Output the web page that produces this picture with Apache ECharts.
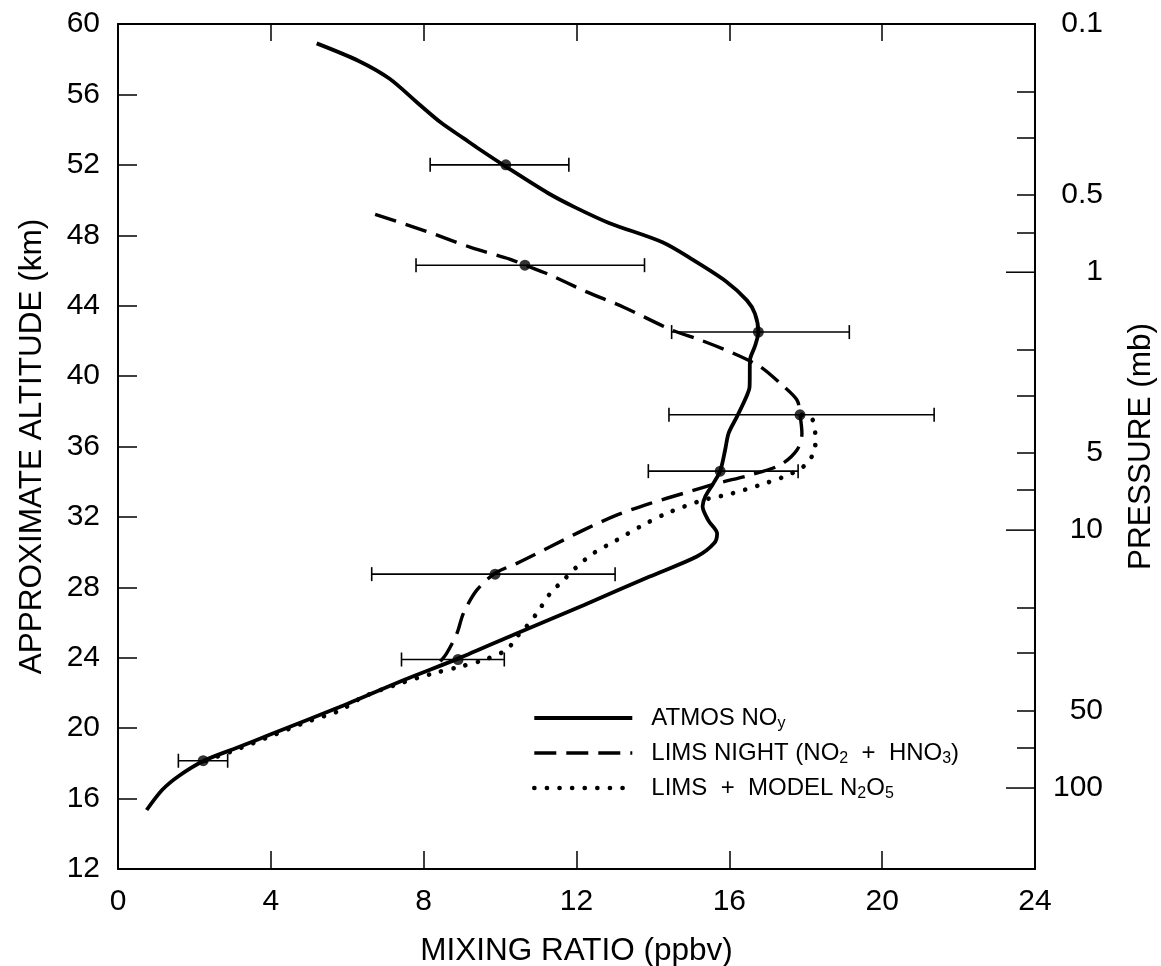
<!DOCTYPE html>
<html><head><meta charset="utf-8">
<script src="https://cdn.jsdelivr.net/npm/echarts@6/dist/echarts.min.js"></script>
<style>html,body{margin:0;padding:0;background:#fff}#c{width:1161px;height:966px}</style>
</head><body><div id="c"></div>
<script>
// ---- data: [mixing ratio (ppbv), altitude (km)] ----
const atmosNOy = [
 [0.75,15.35],[1.16,16.5],[1.6,17.3],[2.25,18.15],[3.13,18.9],[4.0,19.65],[5.8,21.2],[7.5,22.75],
 [8.9,23.95],[10.4,25.35],[12.2,27.0],[13.9,28.6],[15.15,29.75],[15.6,30.5],[15.68,31.05],
 [15.45,31.8],[15.3,32.6],[15.37,33.15],[15.58,33.9],[15.76,34.6],[15.89,35.8],[15.98,36.75],
 [16.2,37.7],[16.41,38.65],[16.53,39.4],[16.54,40.9],[16.67,41.7],[16.76,42.5],[16.67,43.55],
 [16.46,44.3],[15.9,45.4],[15.05,46.6],[14.25,47.6],[12.85,48.7],[11.95,49.6],[11.25,50.4],
 [10.15,51.9],[9.45,52.9],[9.05,53.5],[8.45,54.4],[7.85,55.5],[7.1,56.9],[6.3,57.9],[5.2,58.9]
];
const limsNight = [
 [6.73,49.18],[8.05,48.24],[9.25,47.3],[10.25,46.65],[10.65,46.3],[11.25,45.8],[12.25,44.8],
 [13.25,43.9],[14.49,42.62],[15.24,42.05],[16.11,41.29],[16.81,40.53],[17.33,39.59],[17.77,38.64],
 [17.85,37.8],[17.9,36.74],[17.77,35.8],[17.33,34.95],[16.55,34.38],[15.67,33.9],[14.8,33.34],
 [13.93,32.77],[13.05,32.1],[12.18,31.25],[11.31,30.3],[10.44,29.36],[9.87,28.8],[9.39,27.84],
 [9.04,26.52],[8.87,25.38],[8.6,24.25],[8.4,23.7]
];
const limsModel = [
 [17.9,37.8],[18.16,37.6],[18.25,36.6],[18.25,36.0],[18.03,35.04],[17.63,34.47],[16.98,33.94],
 [16.02,33.3],[15.32,32.96],[14.36,32.2],[13.66,31.44],[13.05,30.68],[12.44,29.93],[12.01,29.17],
 [11.66,28.41],[11.31,27.65],[10.96,26.52],[10.61,25.57],[10.44,25.19],[10.17,24.45],[9.56,23.87],
 [8.95,23.49],[8.25,23.11],[7.38,22.54],[6.42,21.78],[5.8,21.0],[4.91,20.33],[4.02,19.57],
 [3.13,18.81],[2.3,18.15]
];
// error bars
const errAlt  = [52.0, 46.3, 42.5, 37.8, 34.6, 28.75, 23.9, 18.15];
const errMid  = [10.15, 10.65, 16.76, 17.85, 15.76, 9.87, 8.9, 2.23];
const errLow  = [8.17, 7.8, 14.49, 14.42, 13.88, 6.64, 7.42, 1.58];
const errHigh = [11.8, 13.78, 19.14, 21.36, 17.8, 13.01, 10.11, 2.87];
// pressure axis (mb)
const pressureLabels = [0.1, 0.5, 1, 5, 10, 50, 100];
const pressureMinorTicks = [0.2, 0.3, 0.5, 0.7, 2, 3, 5, 7, 20, 30, 50, 70];
const pressureMajorTicks = [1, 10, 100];

// approximate altitude (km) of a pressure level (mb), as implied by the figure's two scales
function altOf(p){ return Math.min(60, 45.9 - 14.65*Math.log10(p)); }

const FONT = "'Liberation Sans', Arial, Helvetica, sans-serif";
const chart = echarts.init(document.getElementById('c'), null, {renderer:'canvas'});
const axisLineStyle = {color:'#000', width:2};

const legendText = {
  'ATMOS NOy': 'ATMOS NO{s|y}',
  'LIMS NIGHT (NO2 + HNO3)': 'LIMS NIGHT (NO{s|2}  +  HNO{s|3})',
  'LIMS + MODEL N2O5': 'LIMS  +  MODEL N{s|2}O{s|5}'
};
const solidStyle = {color:'#000', width:3.8};
const dashStyle = {color:'#000', width:3.4, type:[22,10]};
const dotStyle = {color:'#000', width:4.6, type:[0.1,12.5], cap:'round'};
const TICK_FS = 30, NAME_FS = 31.5;

chart.setOption({
  backgroundColor:'#fff',
  animation:false,
  color:['#000'],
  textStyle:{fontFamily:FONT, color:'#000'},
  grid:{left:118, right:126, top:24, bottom:97, containLabel:false, outerBoundsMode:'none'},
  legend:{
    orient:'vertical', left:532, top:706, padding:0, itemWidth:98, itemHeight:24, itemGap:9,
    data:[
      {name:'ATMOS NOy', lineStyle:solidStyle},
      {name:'LIMS NIGHT (NO2 + HNO3)', lineStyle:dashStyle},
      {name:'LIMS + MODEL N2O5', lineStyle:dotStyle}
    ],
    formatter:(n)=>legendText[n],
    itemStyle:{opacity:0},
    textStyle:{fontFamily:FONT, fontSize:24, color:'#000', lineHeight:24, padding:[0,0,0,14],
      rich:{s:{fontSize:16, fontFamily:FONT, color:'#000', verticalAlign:'bottom', lineHeight:16, padding:[0,0,-2,0]}}},
    selectedMode:false
  },
  xAxis:[
    {type:'value', position:'bottom', min:0, max:24, interval:4,
     axisLine:{show:true, onZero:false, lineStyle:axisLineStyle},
     axisTick:{show:true, inside:true, length:18, lineStyle:{color:'#000', width:1.5}},
     axisLabel:{fontSize:TICK_FS, color:'#000', margin:18, fontFamily:FONT},
     splitLine:{show:false},
     name:'MIXING RATIO (ppbv)', nameLocation:'middle', nameGap:66,
     nameTextStyle:{fontSize:NAME_FS, color:'#000', fontFamily:FONT}},
    {type:'value', position:'top', min:0, max:24, interval:4,
     axisLine:{show:true, onZero:false, lineStyle:axisLineStyle},
     axisTick:{show:true, inside:true, length:17, lineStyle:{color:'#000', width:1.5}},
     axisLabel:{show:false}, splitLine:{show:false}}
  ],
  yAxis:[
    {type:'value', position:'left', min:12, max:60, interval:4,
     axisLine:{show:true, onZero:false, lineStyle:axisLineStyle},
     axisTick:{show:true, inside:true, length:19, lineStyle:{color:'#000', width:1.5}},
     axisLabel:{fontSize:TICK_FS, color:'#000', margin:18, fontFamily:FONT},
     splitLine:{show:false},
     name:'APPROXIMATE ALTITUDE (km)', nameLocation:'middle', nameGap:70, nameRotate:90,
     nameTextStyle:{fontSize:NAME_FS, color:'#000', fontFamily:FONT}},
    {type:'value', position:'right', min:12, max:60,
     axisLine:{show:true, onZero:false, lineStyle:axisLineStyle},
     axisTick:{show:true, inside:true, length:18, lineStyle:{color:'#000', width:1.5},
       customValues: pressureMinorTicks.map(altOf)},
     axisLabel:{fontSize:TICK_FS, color:'#000', margin:68, align:'right', fontFamily:FONT,
       customValues: pressureLabels.map(altOf),
       formatter:(v)=>{ let best=pressureLabels[0], d=1e9;
         pressureLabels.forEach(p=>{ const dd=Math.abs(altOf(p)-v); if(dd<d){d=dd;best=p;} });
         return String(best); }},
     splitLine:{show:false},
     name:'PRESSURE (mb)', nameLocation:'middle', nameGap:90, nameRotate:90,
     nameTextStyle:{fontSize:NAME_FS, color:'#000', fontFamily:FONT}}
  ],
  series:[
    {name:'ATMOS NOy', type:'line', xAxisIndex:0, yAxisIndex:0, data:atmosNOy,
     smooth:0.3, symbol:'none', itemStyle:{color:'#000'}, lineStyle:solidStyle, z:5},
    {name:'LIMS NIGHT (NO2 + HNO3)', type:'line', xAxisIndex:0, yAxisIndex:0, data:limsNight,
     smooth:0.3, symbol:'none', itemStyle:{color:'#000'}, lineStyle:dashStyle, z:4},
    {name:'LIMS + MODEL N2O5', type:'line', xAxisIndex:0, yAxisIndex:0, data:limsModel,
     smooth:0.3, symbol:'none', itemStyle:{color:'#000'}, lineStyle:dotStyle, z:3},
    {name:'majorTicks', type:'custom', xAxisIndex:0, yAxisIndex:1,
     data: pressureMajorTicks.map(p=>[24, altOf(p)]),
     encode:{x:0, y:1}, silent:true,
     renderItem:(params, api)=>{
       const c = api.coord([api.value(0), api.value(1)]);
       return {type:'line', shape:{x1:c[0],y1:c[1],x2:c[0]-29,y2:c[1]}, style:{stroke:'#000', lineWidth:1.5}};
     }, z:1},
    {name:'err', type:'custom', xAxisIndex:0, yAxisIndex:0,
     data: errAlt.map((z,i)=>[errLow[i], errHigh[i], z]),
     encode:{x:[0,1], y:2}, silent:true,
     renderItem:(params, api)=>{
       const lo = api.coord([api.value(0), api.value(2)]);
       const hi = api.coord([api.value(1), api.value(2)]);
       const h = 7, st = {stroke:'#000', lineWidth:1.6};
       return {type:'group', children:[
         {type:'line', shape:{x1:lo[0],y1:lo[1],x2:hi[0],y2:hi[1]}, style:st},
         {type:'line', shape:{x1:lo[0],y1:lo[1]-h,x2:lo[0],y2:lo[1]+h}, style:st},
         {type:'line', shape:{x1:hi[0],y1:hi[1]-h,x2:hi[0],y2:hi[1]+h}, style:st}
       ]};
     }, z:2},
    {name:'pts', type:'scatter', xAxisIndex:0, yAxisIndex:0,
     data: errAlt.map((z,i)=>[errMid[i], z]), symbol:'circle', symbolSize:11,
     itemStyle:{color:'#000'}, z:6}
  ]
});
</script></body></html>
